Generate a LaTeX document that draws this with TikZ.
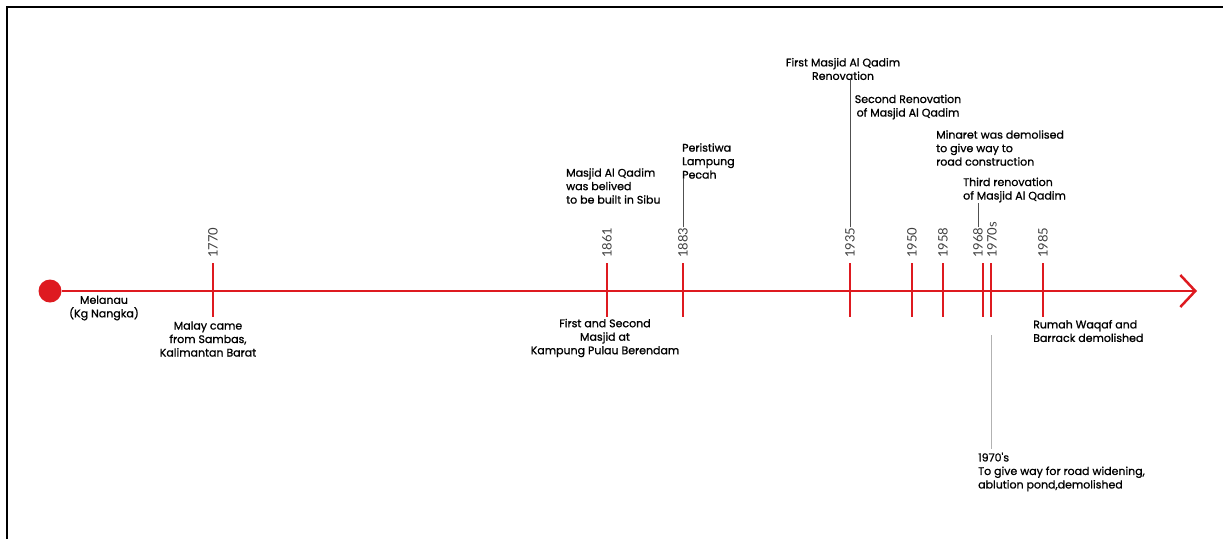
\documentclass[tikz,border=0pt]{standalone}
\usepackage{fontspec}
\setmainfont{Poppins}
\newfontfamily\evfont{Poppins}[FakeBold=1]
\newfontfamily\yearfont{Lato}
\usetikzlibrary{arrows.meta,positioning,calc}

\definecolor{tlred}{RGB}{222,26,32}
\definecolor{leadgray}{RGB}{80,80,80}
\tikzset{
  event/.style={font=\evfont\fontsize{11}{13.5}\selectfont, inner sep=0pt, align=center},
  yearlbl/.style={font=\yearfont\fontsize{13}{13}\selectfont, text=black!75,
    rotate=90, anchor=west, inner sep=0pt},
  tickmark/.style={tlred, line width=2.8pt},
  leader/.style={leadgray, line width=0.6pt}
}

\begin{document}
\begin{tikzpicture}[x=1pt,y=-1pt]
  \useasboundingbox (0,0) rectangle (1223,539);
  % frame
  \draw[line width=2.5pt] (7,539) -- (7,7) -- (1223,7);

  % main axis
  \node[circle,fill=tlred,inner sep=0pt,minimum size=23pt] (start) at (50,291) {};
  \coordinate (tip) at (1197,291);
  \draw[tlred,line width=2.5pt,-{Straight Barb[length=15pt,width=32pt]}] (start) -- (tip);

  % ticks and years
  \foreach \yr/\xx/\lx in {1770/213/213,1861/607/607,1883/683/683,1935/850/850,
      1950/912/912,1958/943/943,1968/983/978,1970s/991/992,1985/1043/1043}{
    \draw[tickmark] (\xx,263) -- (\xx,317);
    \coordinate (t\yr) at (\xx,317);
    \node[yearlbl] (y\yr) at (\lx,258) {\yr};
  }

  % events below the axis
  \node[event] (lmel) at (104,308) {Melanau\\(Kg Nangka)};
  \node[event] (l1770) at (208,339) {Malay came\\from Sambas,\\Kalimantan Barat};
  \node[event] (l1861b) at (605,338) {First and Second\\Masjid at\\Kampung Pulau Berendam};
  \node[event,align=left,anchor=west] (l1985) at (1033,331) {Rumah Waqaf and\\Barrack demolished};
  \node[event,align=left,anchor=west] (l1970) at (978,472)
    {1970's\\To give way for road widening,\\ablution pond,demolished};

  % events above the axis
  \node[event,align=left,anchor=west] (l1861) at (566,186)
    {Masjid Al Qadim\\was belived\\to be built in Sibu};
  \node[event,align=left,anchor=west] (l1883) at (682,161) {Peristiwa\\Lampung\\Pecah};
  \node[event] (l1935) at (843,69) {First Masjid Al Qadim\\Renovation};
  \node[event] (l1950) at (908,107) {Second Renovation\\of Masjid Al Qadim};
  \node[event,align=left,anchor=west] (l1958) at (936,148)
    {Minaret was demolised\\to give way to\\road construction};
  \node[event,align=left,anchor=west] (l1968) at (963,190) {Third renovation\\of Masjid Al Qadim};

  % leaders
  \draw[leader] (y1883.east) -- (y1883.east |- l1883.south);
  \draw[leader] (y1935.east) -- (y1935.east |- l1935.south);
  \draw[leader] (y1968.east) -- (y1968.east |- l1968.south);
  \draw[leader,black!30] ($(t1970s)+(0,18)$) -- ($(t1970s |- l1970.north)+(0,-4)$);
\end{tikzpicture}
\end{document}
